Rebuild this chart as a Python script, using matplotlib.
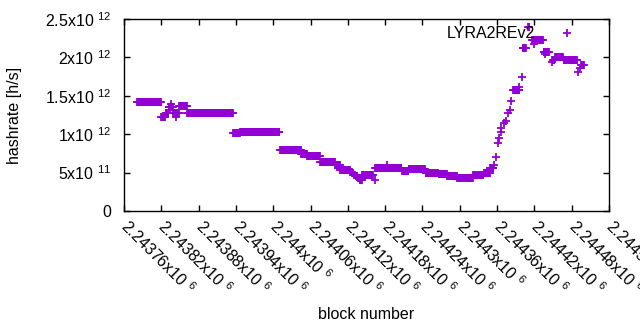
import numpy as np
import matplotlib
matplotlib.use("Agg")
import matplotlib.pyplot as plt

plt.rcParams['font.family'] = ['Liberation Sans', 'DejaVu Sans']
plt.rcParams['mathtext.fontset'] = 'custom'
plt.rcParams['mathtext.rm'] = 'Liberation Sans'
plt.rcParams['mathtext.it'] = 'Liberation Sans'
plt.rcParams['mathtext.default'] = 'regular'

base_block = 2243760

# flat runs of blocks (offset from base_block), hashrate in h/s
run_start = [21, 60, 67, 72, 79, 89, 102, 176, 187, 251, 285, 295, 316, 340, 348,
             361, 364, 367, 370, 373, 376, 379, 383, 404, 424, 447, 458, 485, 506,
             520, 536, 562, 579, 589, 626, 641, 650, 656, 675, 690, 693, 707, 735]
run_end = [59, 66, 71, 78, 88, 101, 175, 186, 250, 284, 294, 315, 339, 347, 360,
           363, 366, 369, 372, 375, 378, 382, 400, 422, 446, 457, 484, 505, 519,
           535, 561, 578, 588, 594, 636, 646, 652, 674, 683, 692, 706, 728, 739]
run_value = [1.415e12, 1.22e12, 1.28e12, 1.35e12, 1.28e12, 1.37e12, 1.27e12, 1.01e12,
             1.025e12, 0.80e12, 0.74e12, 0.71e12, 0.64e12, 0.60e12, 0.54e12,
             0.53e12, 0.51e12, 0.49e12, 0.47e12, 0.45e12, 0.43e12, 0.405e12, 0.47e12,
             0.555e12, 0.555e12, 0.52e12, 0.55e12, 0.49e12, 0.48e12,
             0.455e12, 0.425e12, 0.47e12, 0.50e12, 0.555e12, 1.575e12, 2.12e12,
             2.40e12, 2.23e12, 2.07e12, 1.96e12, 2.01e12, 1.97e12, 1.90e12]

# isolated points
pt_offset = [74, 76, 83, 403, 423, 595, 599, 602, 603, 606, 607, 611, 614, 618,
             620, 623, 636, 640, 659, 677, 689, 730, 733]
pt_value = [1.32e12, 1.39e12, 1.22e12, 0.40e12, 0.60e12, 0.60e12, 0.70e12, 0.89e12,
            0.946e12, 1.03e12, 1.076e12, 1.14e12, 1.17e12, 1.27e12, 1.315e12,
            1.436e12, 1.62e12, 1.75e12, 2.18e12, 2.04e12, 1.94e12, 1.81e12, 1.86e12]

blocks = [base_block + np.arange(s, e + 1) for s, e in zip(run_start, run_end)]
values = [np.full(e - s + 1, v) for s, e, v in zip(run_start, run_end, run_value)]
blocks = np.concatenate(blocks + [base_block + np.array(pt_offset)])
values = np.concatenate(values + [np.array(pt_value)])

x_ticks = np.arange(2243760, 2244541, 60)
y_ticks = [0, 5e11, 1e12, 1.5e12, 2e12, 2.5e12]


def ylab(v):
    if v == 0:
        return "0"
    e = int(np.floor(np.log10(v)))
    return f"{v / 10**e:g}x10 $^{{{e}}}$"


fs = 11.5
fig = plt.figure(figsize=(6.4, 3.3), dpi=100)
ax = fig.add_axes([124 / 640, 1 - 211 / 330, 485 / 640, 192 / 330])

ax.plot(blocks, values, linestyle='none', marker='+', markersize=5.5,
        markeredgewidth=1.3, color='#9400d3', label='LYRA2REv2')

ax.set_xlim(2243760, 2244540)
ax.set_ylim(0, 2.5e12)
ax.set_yticks(y_ticks)
ax.set_yticklabels([ylab(v) for v in y_ticks], fontsize=fs)
ax.set_xticks(x_ticks)
ax.set_xticklabels([f"{v / 1e6:g}x10 $^{{6}}$" for v in x_ticks], fontsize=fs,
                   rotation=-45, ha='left', va='center', rotation_mode='anchor')
ax.tick_params(direction='in', length=4, width=1, top=True, right=True)
ax.tick_params(axis='x', pad=9)
ax.tick_params(axis='y', pad=9)
for s in ax.spines.values():
    s.set_linewidth(1)

ax.set_ylabel('hashrate [h/s]', fontsize=fs)
ax.yaxis.set_label_coords(-0.21, 0.5)
ax.set_xlabel('block number', fontsize=fs)
ax.xaxis.set_label_coords(0.5, -0.5)

ax.legend(loc='center right', bbox_to_anchor=(580 / 640, 296 / 330),
          bbox_transform=fig.transFigure, frameon=False, markerfirst=False,
          handletextpad=1.2, handlelength=1.6, borderpad=0, borderaxespad=0,
          fontsize=fs)

fig.savefig('out.png', dpi=100)
